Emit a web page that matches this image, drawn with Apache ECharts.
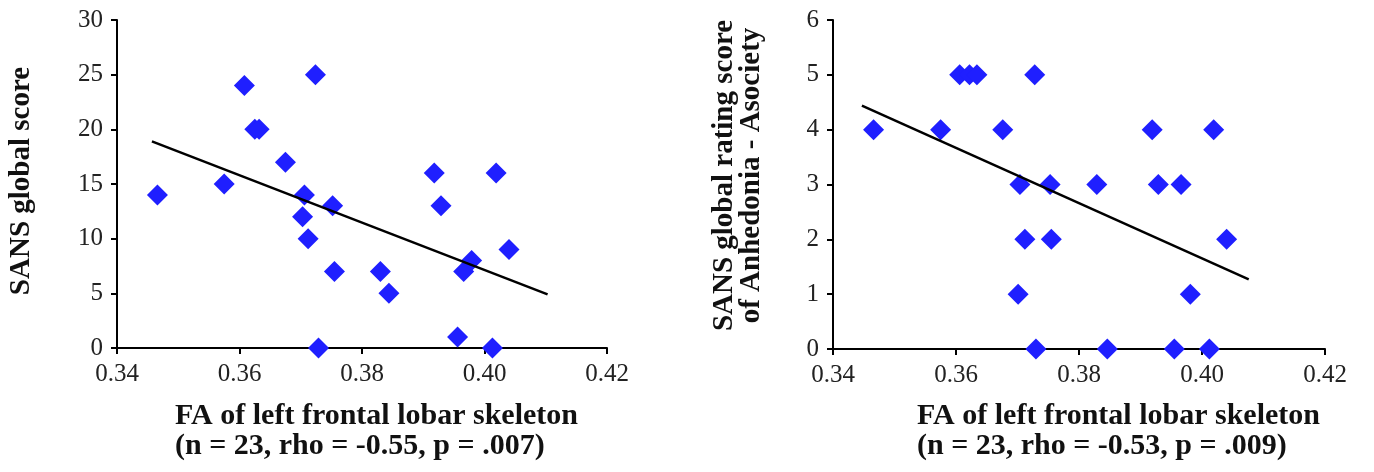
<!DOCTYPE html>
<html>
<head>
<meta charset="utf-8">
<script src="https://cdn.jsdelivr.net/npm/echarts@6/dist/echarts.min.js"></script>
<style>
html,body{margin:0;padding:0;background:#fff;}
#chart{width:1374px;height:472px;}
</style>
</head>
<body>
<div id="chart"></div>
<script>
// Left panel: FA vs SANS global score
var faLeft = [0.3466,0.3575,0.3608,0.3625,0.3632,0.3675,0.3706,0.3703,0.3712,0.3724,0.3729,0.3752,0.3755,0.3830,0.3844,0.3918,0.3929,0.3956,0.3966,0.3979,0.4013,0.4019,0.4040];
var sansGlobal = [14,15,24,20,20,17,14,12,10,25,0,13,7,7,5,16,13,1,7,8,0,16,9];
var trendLeftX = [0.3457, 0.4103];
var trendLeftY = [18.9, 4.9];

// Right panel: FA vs SANS Anhedonia - Asociety
var faRight = [0.3466,0.3575,0.3606,0.3622,0.3634,0.3676,0.3704,0.3701,0.3712,0.3728,0.3730,0.3753,0.3755,0.3829,0.3846,0.3919,0.3929,0.3955,0.3966,0.3981,0.4012,0.4019,0.4040];
var anhedonia = [4,4,5,5,5,4,3,1,2,5,0,3,2,3,0,4,3,0,3,1,0,4,2];
var trendRightX = [0.3447, 0.4076];
var trendRightY = [4.44, 1.27];

var xTitleLeft = 'FA of left frontal lobar skeleton\n(n = 23, rho = -0.55, p = .007)';
var xTitleRight = 'FA of left frontal lobar skeleton\n(n = 23, rho = -0.53, p = .009)';
var yTitleLeft = 'SANS global score';
var yTitleRight = 'SANS global rating score\nof Anhedonia - Asociety';

function pairs(xs, ys){ return xs.map(function(x,i){ return [x, ys[i]]; }); }

var FONT = 'Liberation Serif';
var axisLineStyle = {color:'#000', width:2};

function xAxis(gridIndex){
  return {
    type:'value', gridIndex:gridIndex, min:0.34, max:0.42, interval:0.02,
    axisLine:{show:true, onZero:false, lineStyle:axisLineStyle},
    axisTick:{show:true, length:6, inside:false, lineStyle:{color:'#000', width:2}},
    splitLine:{show:false},
    axisLabel:{fontFamily:FONT, fontSize:25, color:'#222', margin:14,
      formatter:function(v){ return v.toFixed(2); }}
  };
}
function yAxis(gridIndex, max, interval, name, gap, lh, pad){
  return {
    type:'value', gridIndex:gridIndex, min:0, max:max, interval:interval,
    axisLine:{show:true, lineStyle:axisLineStyle},
    axisTick:{show:true, length:6, inside:false, lineStyle:{color:'#000', width:2}},
    splitLine:{show:false},
    axisLabel:{fontFamily:FONT, fontSize:25, color:'#222', margin:14},
    name:name, nameLocation:'middle', nameGap:gap,
    nameTextStyle:{fontFamily:FONT, fontSize:29, fontWeight:'bold', color:'#111', lineHeight:lh, padding:pad}
  };
}
function xTitle(text, left){
  return {
    text:text, left:left, top:401, padding:0, textAlign:'left',
    textStyle:{fontFamily:FONT, fontSize:30, fontWeight:'bold', color:'#111', lineHeight:30}
  };
}

var chart = echarts.init(document.getElementById('chart'), null, {renderer:'canvas'});
chart.setOption({
  backgroundColor:'#fff',
  animation:false,
  title:[xTitle(xTitleLeft, 175), xTitle(xTitleRight, 917)],
  grid:[
    {left:117, right:767, top:20, bottom:124},
    {left:833, right:49, top:20, bottom:123}
  ],
  xAxis:[xAxis(0), xAxis(1)],
  yAxis:[yAxis(0, 30, 5, yTitleLeft, 80, 30, [0,0,0,6]), yAxis(1, 6, 1, yTitleRight, 68, 27, [0,0,0,18])],
  series:[
    {type:'scatter', xAxisIndex:0, yAxisIndex:0, symbol:'diamond', symbolSize:21,
     itemStyle:{color:'#1f1fff', opacity:1}, data:pairs(faLeft, sansGlobal), z:3},
    {type:'line', xAxisIndex:0, yAxisIndex:0, symbol:'none',
     lineStyle:{color:'#000', width:2.5}, data:pairs(trendLeftX, trendLeftY), z:4},
    {type:'scatter', xAxisIndex:1, yAxisIndex:1, symbol:'diamond', symbolSize:21,
     itemStyle:{color:'#1f1fff', opacity:1}, data:pairs(faRight, anhedonia), z:3},
    {type:'line', xAxisIndex:1, yAxisIndex:1, symbol:'none',
     lineStyle:{color:'#000', width:2.5}, data:pairs(trendRightX, trendRightY), z:4}
  ]
});
</script>
</body>
</html>
